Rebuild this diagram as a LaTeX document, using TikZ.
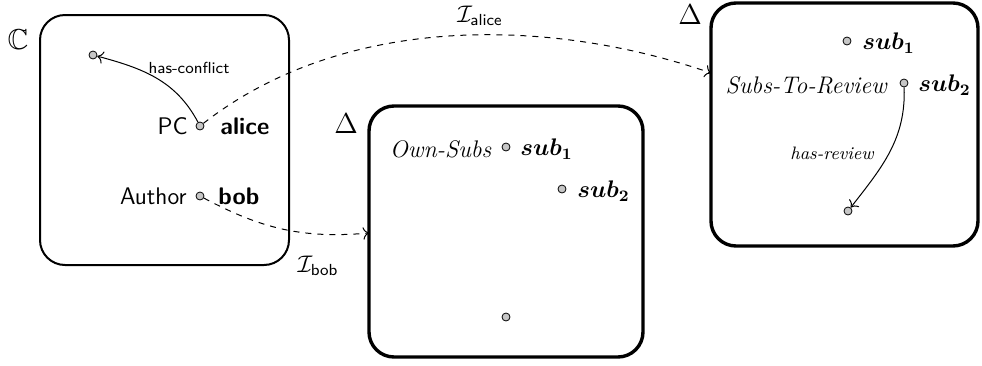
\documentclass[tikz,border=0pt]{standalone}
\usepackage{amssymb,amsmath,bm}
\usetikzlibrary{arrows.meta}
\begin{document}
\begin{tikzpicture}[x=0.5pt,y=-0.5pt,
  every node/.style={font=\large},
  cbox/.style={draw, line width=1pt, rounded corners=12.5pt, inner sep=0pt},
  dbox/.style={draw, line width=1.7pt, rounded corners=12.5pt, inner sep=0pt},
  dot/.style={circle, draw, line width=0.4pt, fill=gray!45, inner sep=0pt, minimum size=4pt},
  elbl/.style={font=\large\sffamily, inner sep=1pt},
  setlbl/.style={font=\Large},
  ilink/.style={dashed, line width=0.5pt, -{To[length=3pt]}},
  rlink/.style={line width=0.5pt, -{To[length=3pt]}},
]
\useasboundingbox (0,0) rectangle (982,365);
% boxes
\node[cbox, minimum width=124.5pt, minimum height=125pt] (C) at (164.5,140) {};
\node[dbox, minimum width=137pt, minimum height=125.5pt] (D1) at (506,231.5) {};
\node[dbox, minimum width=133.5pt, minimum height=121.5pt] (D2) at (844.5,124.5) {};
\node[setlbl] (Clbl) at (18,40) {$\mathbb{C}$};
\node[setlbl] (D1lbl) at (346,124) {$\Delta$};
\node[setlbl] (D2lbl) at (690,15) {$\Delta$};
% C contents
\node[dot] (c0) at (93,55) {};
\node[dot] (pc) at (200,126) {};
\node[dot] (au) at (200,196) {};
\node[elbl, anchor=east] (pclbl) at (190,126) {PC};
\node[elbl, anchor=west] (alice) at (218,126) {\bfseries alice};
\node[elbl, anchor=east] (aulbl) at (189,196) {Author};
\node[elbl, anchor=west] (bob) at (216,196) {\bfseries bob};
\draw[rlink] (pc) to[out=118, in=-15] (c0);
\node[font=\sffamily\footnotesize] (hc) at (189,68) {has-conflict};
% D1 contents
\node[dot] (s11) at (506,147) {};
\node[dot] (s12) at (562,189) {};
\node[dot] (s13) at (506,317) {};
\node[anchor=east, inner sep=1pt] (own) at (494,149) {\textit{Own-Subs}};
\node[anchor=west, inner sep=1pt] (s11l) at (518,149) {$\bm{sub_1}$};
\node[anchor=west, inner sep=1pt] (s12l) at (575,191) {$\bm{sub_2}$};
% D2 contents
\node[dot] (s21) at (847,41) {};
\node[dot] (s22) at (904,83) {};
\node[dot] (s23) at (848,211) {};
\node[anchor=east, inner sep=1pt] (str) at (890,85) {\textit{Subs-To-Review}};
\node[anchor=west, inner sep=1pt] (s21l) at (860,43) {$\bm{sub_1}$};
\node[anchor=west, inner sep=1pt] (s22l) at (916,85) {$\bm{sub_2}$};
\draw[rlink] (s22) to[out=-88, in=52] (s23);
\node[font=\itshape\small] (hr) at (832,153) {has-review};
% interpretation links
\coordinate (a2) at (711,73);
\coordinate (b2) at (369,233);
\draw[ilink] (pc) to[out=38, in=161, looseness=0.88] (a2);
\draw[ilink] (au) to[out=-28, in=185] (b2);
\node[inner sep=0pt] (ialice) at (480,16) {$\mathcal{I}_{\textsf{alice}}$};
\node[inner sep=0pt] (ibob) at (318,266) {$\mathcal{I}_{\textsf{bob}}$};
\end{tikzpicture}
\end{document}
